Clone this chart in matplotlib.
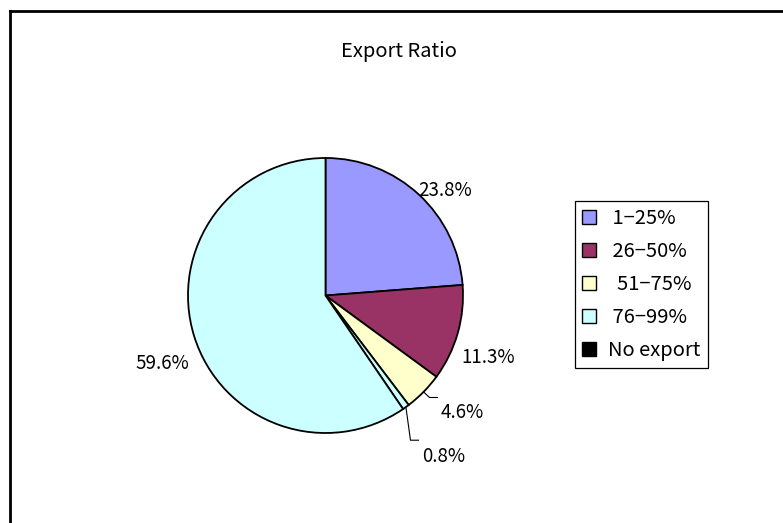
import numpy as np
import matplotlib
matplotlib.use("Agg")
import matplotlib.pyplot as plt
from matplotlib.patches import Patch
from matplotlib.lines import Line2D

plt.rcParams['font.family'] = ['Noto Sans CJK JP', 'DejaVu Sans']

# export ratio groups and their shares (%)
categories = ['1-25%', '26-50%', '51-75%', '76-99%', 'No export']
shares = [23.8, 11.3, 4.6, 0.8, 59.6]
slice_colors = ['#9999FF', '#993366', '#FFFFCC', '#CCFFFF', '#CCFFFF']
legend_colors = ['#9999FF', '#993366', '#FFFFCC', '#CCFFFF', '#000000']
legend_labels = [' 1\u221225%', ' 26\u221250%', '  51\u221275%', ' 76\u221299%', 'No export']

# label placement: distance from centre (in radii) and angle tweak (deg)
label_dist = [1.16, 1.27, 1.31, 1.45, 1.29]
label_turn = [-6.0, -5.0, 4.0, 0.5, 5.5]
# leader elbow offsets from the label centre (px), None = no leader
elbow = [None, None, (-33, 15), (-33, 16), None]

W, H = 783, 523
fig = plt.figure(figsize=(W / 100, H / 100), dpi=100)
ax = fig.add_axes([0, 0, 1, 1])

cx, cy, r = 325.5, H - 295.5, 137.5
wedges, _ = ax.pie(shares, colors=slice_colors, startangle=90, counterclock=False,
                   center=(cx, cy), radius=r, frame=True,
                   wedgeprops=dict(edgecolor='black', linewidth=1.3))
ax.set_xlim(0, W)
ax.set_ylim(0, H)
ax.axis('off')

for w, val, d, t, el in zip(wedges, shares, label_dist, label_turn, elbow):
    mid = np.deg2rad((w.theta1 + w.theta2) / 2)
    ang = mid + np.deg2rad(t)
    lx, ly = cx + d * r * np.cos(ang), cy + d * r * np.sin(ang)
    ax.text(lx, ly, f'{val:.1f}%', ha='center', va='center', fontsize=13.5)
    if el is not None:
        ex, ey = cx + r * np.cos(mid), cy + r * np.sin(mid)
        kx, ky = lx + el[0], ly + el[1]
        ax.plot([ex, kx, kx + 8], [ey, ky, ky], color='black', lw=0.8)

fig.text(399 / W, 1 - 52 / H, 'Export Ratio', ha='center', va='center', fontsize=14.5)

handles = [Patch(facecolor=c, edgecolor='black', linewidth=1.0) for c in legend_colors]
leg = fig.legend(handles, legend_labels, loc='upper left',
                 bbox_to_anchor=(575 / W, 1 - 201 / H), fontsize=14.5,
                 handlelength=0.7, handleheight=0.7, handletextpad=0.6,
                 labelspacing=0.6, borderpad=0.35, borderaxespad=0,
                 fancybox=False, framealpha=1)
leg.get_frame().set_edgecolor('black')
leg.get_frame().set_linewidth(0.9)

# outer chart border (left and top edges visible)
fig.add_artist(Line2D([9.5 / W, 9.5 / W], [0, 1 - 10.5 / H], color='black', lw=2,
                      transform=fig.transFigure))
fig.add_artist(Line2D([9.5 / W, 1], [1 - 10.5 / H, 1 - 10.5 / H], color='black', lw=2,
                      transform=fig.transFigure))

fig.savefig('out.png', dpi=100)
